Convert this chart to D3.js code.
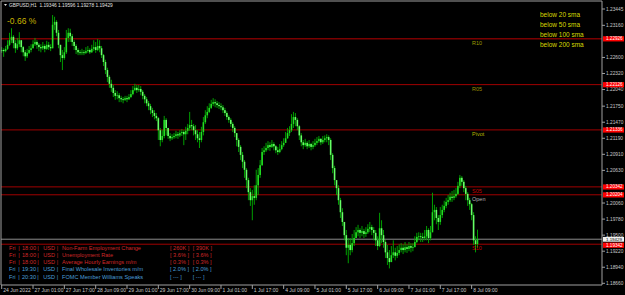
<!DOCTYPE html>
<html>
<head>
<meta charset="utf-8">
<script src="https://cdn.jsdelivr.net/npm/d3@7"></script>
<style>
body { margin: 0; background: #000; }
svg { display: block; }
text { font-family: "Liberation Sans", Arial, sans-serif; }
</style>
</head>
<body>
<svg id="chart" width="625" height="295"></svg>
<script>
// GBPUSD H1, 24 Jun 2022 09:00 .. 8 Jul 2022 12:00
var symbol = "GBPUSD,H1"
var firstOpen = 1.2271

var closes = [
    1.2273,1.2271,1.2275,1.2282,1.2290,1.2296,1.2285,1.2276,1.2283,1.2290,
    1.2278,1.2269,1.2262,1.2268,1.2273,1.2276,1.2283,1.2287,1.2282,1.2278,
    1.2276,1.2280,1.2275,1.2282,1.2278,1.2276,1.2317,1.2322,1.2303,1.2282,
    1.2264,1.2259,1.2269,1.2294,1.2303,1.2297,1.2287,1.2280,1.2273,1.2269,
    1.2268,1.2269,1.2268,1.2271,1.2273,1.2269,1.2275,1.2278,1.2273,1.2280,
    1.2276,1.2264,1.2252,1.2238,1.2226,1.2214,1.2207,1.2198,1.2193,1.2194,
    1.2189,1.2187,1.2186,1.2189,1.2187,1.2191,1.2196,1.2203,1.2207,1.2203,
    1.2205,1.2200,1.2193,1.2187,1.2180,1.2175,1.2168,1.2163,1.2158,1.2154,
    1.2133,1.2116,1.2123,1.2151,1.2137,1.2123,1.2119,1.2121,1.2123,1.2126,
    1.2124,1.2128,1.2130,1.2126,1.2132,1.2137,1.2142,1.2140,1.2133,1.2126,
    1.2119,1.2116,1.2130,1.2147,1.2159,1.2165,1.2172,1.2179,1.2182,1.2180,
    1.2177,1.2175,1.2173,1.2168,1.2163,1.2156,1.2151,1.2144,1.2137,1.2128,
    1.2116,1.2104,1.2090,1.2078,1.2064,1.2046,1.2025,1.2011,1.2018,1.2015,
    1.2037,1.2055,1.2072,1.2095,1.2098,1.2102,1.2107,1.2104,1.2109,1.2105,
    1.2098,1.2095,1.2100,1.2107,1.2111,1.2119,1.2128,1.2133,1.2144,1.2156,
    1.2151,1.2140,1.2124,1.2112,1.2107,1.2111,1.2105,1.2109,1.2104,1.2107,
    1.2111,1.2114,1.2118,1.2112,1.2116,1.2119,1.2121,1.2116,1.2090,1.2067,
    1.2046,1.2032,1.2011,1.1990,1.1973,1.1950,1.1928,1.1933,1.1924,1.1936,
    1.1945,1.1955,1.1959,1.1954,1.1957,1.1952,1.1955,1.1961,1.1964,1.1959,
    1.1954,1.1941,1.1931,1.1962,1.1950,1.1938,1.1920,1.1910,1.1903,1.1915,
    1.1920,1.1914,1.1919,1.1924,1.1928,1.1924,1.1929,1.1926,1.1931,1.1928,
    1.1929,1.1938,1.1947,1.1948,1.1947,1.1945,1.1948,1.1959,1.1945,1.1955,
    1.1990,1.1994,1.1980,1.1973,1.1985,1.1994,1.2001,1.2008,1.2011,1.2017,
    1.2015,1.2018,1.2022,1.2036,1.2050,1.2043,1.2032,1.2022,1.2011,1.2004,
    1.1985,1.1941,1.19346,1.19429
]

var highs = [
    1.2278,1.2276,1.2280,1.2290,1.2303,1.2311,1.2299,1.2290,1.2294,1.2304,
    1.2290,1.2280,1.2273,1.2275,1.2280,1.2283,1.2290,1.2294,1.2290,1.2285,
    1.2283,1.2287,1.2283,1.2289,1.2287,1.2283,1.2334,1.2331,1.2325,1.2308,
    1.2282,1.2273,1.2278,1.2308,1.2311,1.2310,1.2301,1.2290,1.2283,1.2276,
    1.2273,1.2275,1.2273,1.2278,1.2280,1.2276,1.2282,1.2290,1.2287,1.2292,
    1.2290,1.2280,1.2266,1.2256,1.2242,1.2229,1.2221,1.2212,1.2203,1.2201,
    1.2198,1.2193,1.2191,1.2193,1.2193,1.2196,1.2203,1.2210,1.2214,1.2212,
    1.2212,1.2210,1.2203,1.2196,1.2191,1.2184,1.2179,1.2172,1.2168,1.2163,
    1.2156,1.2137,1.2133,1.2158,1.2154,1.2133,1.2128,1.2126,1.2128,1.2132,
    1.2130,1.2133,1.2135,1.2133,1.2139,1.2144,1.2165,1.2151,1.2144,1.2142,
    1.2133,1.2130,1.2139,1.2156,1.2168,1.2175,1.2180,1.2186,1.2189,1.2187,
    1.2184,1.2182,1.2180,1.2177,1.2172,1.2166,1.2159,1.2154,1.2147,1.2140,
    1.2128,1.2119,1.2107,1.2095,1.2081,1.2067,1.2050,1.2032,1.2029,1.2037,
    1.2064,1.2067,1.2081,1.2102,1.2105,1.2111,1.2114,1.2112,1.2116,1.2112,
    1.2107,1.2104,1.2109,1.2114,1.2119,1.2130,1.2137,1.2140,1.2161,1.2165,
    1.2163,1.2154,1.2142,1.2128,1.2116,1.2118,1.2114,1.2116,1.2111,1.2114,
    1.2118,1.2121,1.2123,1.2119,1.2123,1.2124,1.2126,1.2124,1.2119,1.2093,
    1.2071,1.2046,1.2037,1.2015,1.1997,1.1973,1.1959,1.1945,1.1945,1.1952,
    1.1959,1.1964,1.1968,1.1962,1.1966,1.1961,1.1964,1.1969,1.1973,1.1968,
    1.1964,1.1959,1.1948,1.1989,1.1976,1.1959,1.1941,1.1933,1.1924,1.1931,
    1.1941,1.1928,1.1931,1.1934,1.1936,1.1934,1.1938,1.1934,1.1938,1.1936,
    1.1936,1.1948,1.1954,1.1955,1.1954,1.1954,1.1959,1.1966,1.1962,1.1966,
    1.2024,1.2003,1.1999,1.1985,1.1999,1.2003,1.2010,1.2015,1.2020,1.2024,
    1.2027,1.2029,1.2032,1.2043,1.2055,1.2053,1.2046,1.2036,1.2025,1.2015,
    1.2006,1.1990,1.1948,1.19596
]

var lows = [
    1.2268,1.2261,1.2269,1.2273,1.2280,1.2285,1.2276,1.2268,1.2273,1.2278,
    1.2269,1.2262,1.2254,1.2259,1.2266,1.2269,1.2276,1.2280,1.2275,1.2271,
    1.2269,1.2273,1.2269,1.2273,1.2273,1.2271,1.2276,1.2308,1.2297,1.2276,
    1.2252,1.2238,1.2256,1.2266,1.2287,1.2287,1.2280,1.2273,1.2266,1.2264,
    1.2264,1.2264,1.2264,1.2266,1.2268,1.2266,1.2268,1.2271,1.2268,1.2271,
    1.2269,1.2259,1.2245,1.2231,1.2217,1.2207,1.2200,1.2191,1.2186,1.2187,
    1.2182,1.2182,1.2180,1.2184,1.2182,1.2186,1.2189,1.2194,1.2201,1.2198,
    1.2200,1.2194,1.2187,1.2180,1.2175,1.2168,1.2161,1.2156,1.2152,1.2149,
    1.2116,1.2105,1.2112,1.2119,1.2124,1.2118,1.2114,1.2116,1.2118,1.2119,
    1.2118,1.2121,1.2123,1.2107,1.2116,1.2126,1.2132,1.2133,1.2124,1.2116,
    1.2112,1.2102,1.2112,1.2124,1.2144,1.2154,1.2163,1.2170,1.2175,1.2173,
    1.2172,1.2170,1.2168,1.2163,1.2158,1.2151,1.2146,1.2139,1.2130,1.2121,
    1.2105,1.2095,1.2081,1.2067,1.2050,1.2032,1.2011,1.2001,1.1976,1.2003,
    1.2011,1.2020,1.2050,1.2071,1.2090,1.2095,1.2098,1.2097,1.2102,1.2098,
    1.2093,1.2090,1.2093,1.2098,1.2104,1.2111,1.2118,1.2123,1.2130,1.2137,
    1.2140,1.2133,1.2116,1.2105,1.2100,1.2104,1.2100,1.2102,1.2098,1.2100,
    1.2104,1.2107,1.2111,1.2107,1.2109,1.2112,1.2112,1.2107,1.2081,1.2058,
    1.2037,1.2020,1.2003,1.1980,1.1966,1.1941,1.1915,1.1901,1.1915,1.1920,
    1.1931,1.1945,1.1948,1.1945,1.1948,1.1945,1.1947,1.1952,1.1955,1.1950,
    1.1941,1.1931,1.1924,1.1929,1.1936,1.1928,1.1910,1.1898,1.1892,1.1903,
    1.1910,1.1906,1.1910,1.1915,1.1920,1.1917,1.1920,1.1919,1.1922,1.1920,
    1.1922,1.1931,1.1936,1.1941,1.1938,1.1938,1.1941,1.1941,1.1936,1.1941,
    1.1955,1.1976,1.1969,1.1959,1.1968,1.1980,1.1990,1.1997,1.2003,1.2008,
    1.2008,1.2011,1.2015,1.2020,1.2032,1.2036,1.2025,1.2011,1.2001,1.1994,
    1.1976,1.1933,1.1920,1.19278
]

// price scale labels
var yTicks = [1.23445,1.23160,1.22600,1.22320,1.22040,1.21750,1.21470,1.21190,
              1.20910,1.20630,1.20060,1.19780,1.19500,1.19220,1.18940,1.18660]

// time labels, one every 16 bars
var timeLabels = ["24 Jun 2022","27 Jun 01:00","27 Jun 17:00","28 Jun 09:00","29 Jun 01:00",
                  "29 Jun 17:00","30 Jun 09:00","1 Jul 01:00","1 Jul 17:00","4 Jul 09:00",
                  "5 Jul 01:00","5 Jul 17:00","6 Jul 09:00","7 Jul 01:00","7 Jul 17:00","8 Jul 09:00"]
var labelStep = 16

// pivot levels
var levelNames  = ["R10","R05","Pivot","S05","Open","S10"]
var levelPrices = [1.22926,1.22126,1.21336,1.20342,1.20204,1.19342]
var levelColors = ["#9c9c00","#9c8c00","#b4b400","#c80000","#b4b4b4","#c80000"]

var bid = 1.19429
var changeText = "-0.66 %"
var smaNotes = ["below 20 sma","below 50 sma","below 100 sma","below 200 sma"]

// calendar
var evDay      = ["Fri","Fri","Fri","Fri","Fri"]
var evTime     = ["18:00","18:00","18:00","19:30","20:30"]
var evCurrency = ["USD","USD","USD","USD","USD"]
var evName     = ["Non-Farm Employment Change","Unemployment Rate","Average Hourly Earnings m/m",
                  "Final Wholesale Inventories m/m","FOMC Member Williams Speaks"]
var evForecast = ["260K","3.6%","0.3%","2.0%","---"]
var evPrevious = ["390K","3.6%","0.3%","2.0%","---"]
var evHigh     = [true,true,true,false,false]

var W = 625, H = 295
var plotRight = 602, plotBottom = 285

var svg = d3.select("#chart")
svg.append("rect").attr("width", W).attr("height", H).attr("fill", "#000")

// build candles
var bars = []
for(var i=0; i<closes.length; i++)
{
    var o = i == 0 ? firstOpen : closes[i-1]
    var c = closes[i]
    bars.push({i: i, o: o, c: c,
               h: Math.max(highs[i], o, c),
               l: Math.min(lows[i], o, c)})
}

var x = d3.scaleLinear().domain([0, 243]).range([1.7, 477.5])
var y = d3.scaleLinear().domain([1.18660, 1.23445]).range([283.3, 9])

var plot = svg.append("g")

// levels
levelPrices.forEach(function(p, k){
    plot.append("line")
        .attr("x1", 1).attr("x2", plotRight)
        .attr("y1", y(p)).attr("y2", y(p))
        .attr("stroke", k == 0 ? "#7a0000" : "#a00000")
        .attr("stroke-width", k == 0 ? 1.6 : 1)
})
plot.append("line")
    .attr("x1", 1).attr("x2", plotRight)
    .attr("y1", y(bid)).attr("y2", y(bid))
    .attr("stroke", "#8c8c8c").attr("stroke-width", 1)

// candles
var cg = plot.append("g")
cg.selectAll("line.wick")
    .data(bars)
    .enter()
        .append("line")
        .attr("class", "wick")
        .attr("x1", function(d){ return x(d.i) })
        .attr("x2", function(d){ return x(d.i) })
        .attr("y1", function(d){ return y(d.h) })
        .attr("y2", function(d){ return y(d.l) })
        .attr("stroke", "#00b000")
        .attr("stroke-width", 0.9)

cg.selectAll("rect.body")
    .data(bars)
    .enter()
        .append("rect")
        .attr("class", "body")
        .attr("x", function(d){ return x(d.i) - 0.8 })
        .attr("width", 1.6)
        .attr("y", function(d){ return y(Math.max(d.o, d.c)) })
        .attr("height", function(d){ return Math.max(0.8, Math.abs(y(d.o) - y(d.c))) })
        .attr("fill", function(d){ return d.c >= d.o ? "#22dd22" : "#66ff66" })

// level labels
levelNames.forEach(function(n, k){
    plot.append("text")
        .attr("x", 472).attr("y", y(levelPrices[k]) + 6)
        .attr("font-size", 5.5)
        .attr("fill", levelColors[k])
        .text(n)
})

// frame
svg.append("path")
    .attr("d", "M1,285 V1 H602 V285 H1")
    .attr("fill", "none").attr("stroke", "#a0a0a0").attr("stroke-width", 1)

// price axis
var ya = svg.append("g")
ya.selectAll("line")
    .data(yTicks)
    .enter()
        .append("line")
        .attr("x1", plotRight).attr("x2", plotRight + 3)
        .attr("y1", function(d){ return y(d) }).attr("y2", function(d){ return y(d) })
        .attr("stroke", "#a0a0a0")
ya.selectAll("text")
    .data(yTicks)
    .enter()
        .append("text")
        .attr("x", 606).attr("y", function(d){ return y(d) + 1.6 })
        .attr("font-size", 4.8).attr("fill", "#c8c8c8")
        .text(function(d){ return d.toFixed(5) })

// price boxes: the bid box and the S10 box sit close, nudge them apart a little
var boxShift = [0, 0, 0, 0, 0, 0.9]
levelPrices.forEach(function(p, k){
    ya.append("rect")
        .attr("x", 603).attr("y", y(p) - 2.5 + boxShift[k])
        .attr("width", 21).attr("height", 5.2)
        .attr("fill", "#ff0000")
    ya.append("text")
        .attr("x", 606).attr("y", y(p) + 1.6 + boxShift[k])
        .attr("font-size", 4.6).attr("fill", "#ffffff")
        .text(p.toFixed(5))
})
ya.append("rect")
    .attr("x", 603).attr("y", y(bid) - 2.3)
    .attr("width", 21).attr("height", 4.8)
    .attr("fill", "#f0f0f0")
ya.append("text")
    .attr("x", 606).attr("y", y(bid) + 1.8)
    .attr("font-size", 4.4).attr("fill", "#000")
    .text(bid.toFixed(5))

// time axis
var xa = svg.append("g")
xa.selectAll("line")
    .data(timeLabels)
    .enter()
        .append("line")
        .attr("x1", function(d, k){ return x(k * labelStep) })
        .attr("x2", function(d, k){ return x(k * labelStep) })
        .attr("y1", plotBottom).attr("y2", plotBottom + 4)
        .attr("stroke", "#a0a0a0")
xa.selectAll("text")
    .data(timeLabels)
    .enter()
        .append("text")
        .attr("x", function(d, k){ return x(k * labelStep) + 1.5 })
        .attr("y", 291.5)
        .attr("font-size", 5).attr("fill", "#c8c8c8")
        .text(function(d){ return d })

// header
svg.append("path").attr("d", "M4,4 L7,4 L5.5,6 Z").attr("fill", "#e0e0e0")
svg.append("text")
    .attr("x", 9).attr("y", 7)
    .attr("font-size", 4.8).attr("fill", "#e0e0e0")
    .attr("xml:space", "preserve")
    .text(symbol + "  " + [bars[243].o, bars[243].h, bars[243].l, bars[243].c].map(function(v){ return v.toFixed(5) }).join(" "))

svg.append("text")
    .attr("x", 7).attr("y", 23.5)
    .attr("font-size", 8.5).attr("fill", "#c8b400")
    .text(changeText)

svg.selectAll("text.sma")
    .data(smaNotes)
    .enter()
        .append("text")
        .attr("class", "sma")
        .attr("x", 540).attr("y", function(d, k){ return 17.3 + k * 9.8 })
        .attr("font-size", 6.5).attr("fill", "#d8d800")
        .text(function(d){ return d })

// calendar table
var cols = [9, 18.3, 22, 37.3, 43.3, 56.7, 62, 170, 192.7]
evName.forEach(function(n, k){
    var row = svg.append("g")
        .attr("font-size", 5.6)
        .attr("fill", evHigh[k] ? "#d02828" : "#4a9fd8")
    var yy = 249.7 + k * 7.25
    var cells = [evDay[k], "|", evTime[k], "|", evCurrency[k], "|", n,
                 "[ " + evForecast[k] + " ]", "[ " + evPrevious[k] + " ]"]
    cells.forEach(function(t, j){
        row.append("text").attr("x", cols[j]).attr("y", yy).text(t)
    })
})
</script>
</body>
</html>
